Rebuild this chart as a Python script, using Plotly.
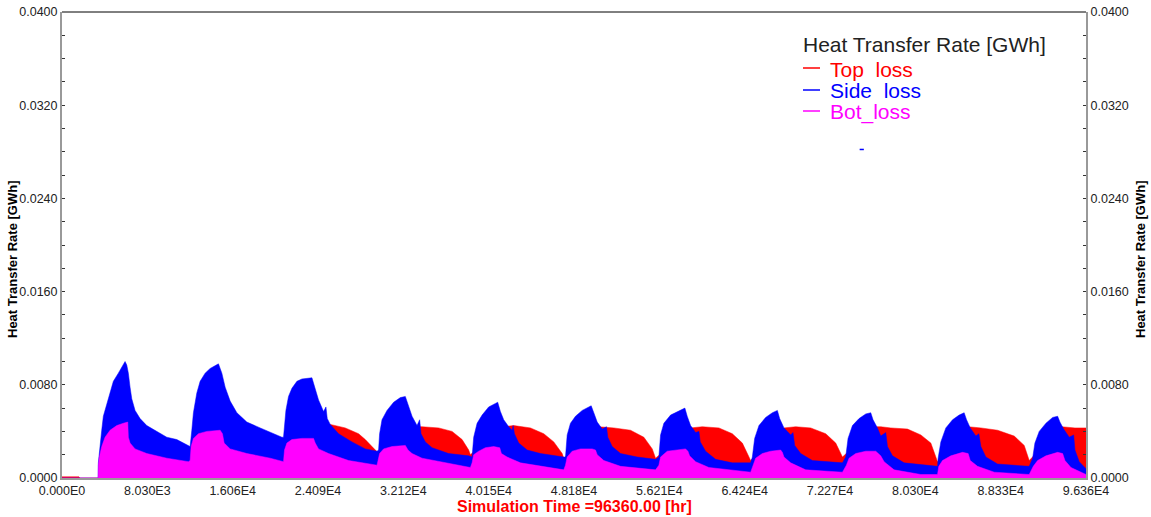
import plotly.graph_objects as go

# ---------------- data ----------------
# Simulation time [hr] and envelope values [GWh]
top_t = [0, 1600, 1700, 3500, 3600, 21000, 23000, 24612, 25243, 26656, 27908, 28540, 29171, 29481, 29700,
         32618, 33880, 35444, 36706, 37648, 38270, 38430,
         41415, 42508, 44081, 45334, 46276, 47067, 47218,
         50514, 51926, 53500, 54753, 55543, 55855,
         59151, 60253, 61817, 63079, 64021, 64803,
         67939, 69041, 70454, 71867, 72809, 73440,
         76576, 77047, 77989, 79562, 80815, 81757, 82388,
         85270, 86466, 88039, 89603, 90545, 91016,
         94067, 95320, 96360]
top_v = [0.0001, 0.0001, 0.0, 0.0, 0.0010, 0.0010, 0.0040, 0.0045, 0.0046, 0.0043, 0.0038, 0.0033, 0.0027, 0.0024, 0.0022,
         0.0044, 0.0044, 0.0043, 0.0040, 0.0033, 0.0024, 0.0020,
         0.0044, 0.0045, 0.0043, 0.0038, 0.0031, 0.0021, 0.0017,
         0.0044, 0.0043, 0.0041, 0.0035, 0.0025, 0.0017,
         0.0043, 0.0044, 0.0043, 0.0038, 0.0030, 0.0015,
         0.0043, 0.0044, 0.0043, 0.0038, 0.0030, 0.0018,
         0.0044, 0.0044, 0.0043, 0.0042, 0.0037, 0.0030, 0.0014,
         0.0044, 0.0043, 0.0041, 0.0036, 0.0028, 0.0015,
         0.0044, 0.0043, 0.0043]

side_t = [0, 3400, 3419, 3579, 3739, 3890, 4210, 4521, 4832, 5303, 5934,
          6094, 6245, 6405, 6565, 6876, 7347, 7978, 8920, 9862, 10804, 11896,
          12056, 12216, 12367, 12687, 12998, 13469, 13940, 14722,
          15042, 15353, 15824, 16455, 17397, 18650, 19592, 20694,
          20844, 20938, 21069, 21315, 21635, 22106, 22577, 23519,
          23830, 24141, 24612, 24838, 24961, 25243, 26025, 27287, 28540, 29642,
          29792, 29887, 30112, 30583, 31205, 31836, 32307,
          32562, 32939, 33409, 33655, 33786, 34191, 34822, 36386, 38270,
          38590, 38741, 39061, 39532, 40153, 40784, 41001,
          41255, 41566, 42037, 42357, 42451, 42574, 42979, 43771, 45023, 46276, 47218,
          47378, 47538, 47849, 48320, 48951, 49573, 49798,
          50044, 50364, 50835, 51239, 51362, 51775, 52558, 54131, 55855,
          56166, 56326, 56637, 57268, 57738, 58365, 58614,
          58834, 59151, 59622, 59933, 60065, 60564, 61506, 63079, 64803,
          64963, 65180, 65585, 66215, 66846, 67318,
          67534, 67939, 68570, 68787, 68947, 69512, 70613, 73440,
          73751, 73968, 74382, 75003, 75634, 76106,
          76322, 76736, 77047, 77518, 77679, 78150, 79243, 82388,
          82445, 82699, 83170, 83801, 84422, 84894,
          85120, 85468, 85995, 86278, 86466, 86937, 88039, 91016,
          91336, 91553, 91957, 92589, 93220, 93691,
          93908, 94256, 94783, 95198, 95320, 95724, 96360]
side_v = [0.0, 0.0, 0.0013, 0.0030, 0.0041, 0.0053, 0.0064, 0.0074, 0.0083, 0.0090, 0.0100,
          0.0097, 0.0090, 0.0078, 0.0068, 0.0058, 0.0051, 0.0045, 0.0040, 0.0035, 0.0033, 0.0028,
          0.0027, 0.0041, 0.0056, 0.0073, 0.0083, 0.0090, 0.0094, 0.0098,
          0.0090, 0.0078, 0.0066, 0.0056, 0.0048, 0.0043, 0.0039, 0.0035,
          0.0035, 0.0047, 0.0058, 0.0070, 0.0077, 0.0083, 0.0085, 0.0086,
          0.0076, 0.0067, 0.0057, 0.0061, 0.0051, 0.0046, 0.0038, 0.0031, 0.0025, 0.0023,
          0.0024, 0.0038, 0.0050, 0.0058, 0.0065, 0.0069, 0.0070,
          0.0063, 0.0053, 0.0045, 0.0050, 0.0038, 0.0031, 0.0026, 0.0021, 0.0019,
          0.0018, 0.0035, 0.0047, 0.0054, 0.0061, 0.0064, 0.0065,
          0.0057, 0.0050, 0.0044, 0.0041, 0.0045, 0.0038, 0.0030, 0.0024, 0.0021, 0.0019, 0.0018,
          0.0018, 0.0037, 0.0047, 0.0053, 0.0058, 0.0061, 0.0062,
          0.0056, 0.0048, 0.0042, 0.0044, 0.0035, 0.0027, 0.0021, 0.0018, 0.0016,
          0.0018, 0.0037, 0.0047, 0.0054, 0.0056, 0.0059, 0.0060,
          0.0053, 0.0045, 0.0039, 0.0040, 0.0031, 0.0023, 0.0016, 0.0013, 0.0013,
          0.0018, 0.0034, 0.0045, 0.0052, 0.0056, 0.0058,
          0.0051, 0.0043, 0.0037, 0.0039, 0.0028, 0.0021, 0.0015, 0.0013,
          0.0018, 0.0034, 0.0045, 0.0051, 0.0055, 0.0056,
          0.0050, 0.0043, 0.0036, 0.0039, 0.0027, 0.0019, 0.0013, 0.0010,
          0.0017, 0.0031, 0.0043, 0.0050, 0.0054, 0.0056,
          0.0050, 0.0043, 0.0036, 0.0038, 0.0027, 0.0018, 0.0012, 0.0010,
          0.0017, 0.0030, 0.0040, 0.0047, 0.0052, 0.0053,
          0.0048, 0.0042, 0.0035, 0.0037, 0.0024, 0.0014, 0.0008]

bot_t = [0, 3400, 3419, 3513, 3739, 4050, 4521, 5152, 5774, 6188,
         6245, 6405, 6876, 7978, 9862, 11896,
         12056, 12150, 12367, 12838, 13629, 14882, 15099, 15259, 15824, 17397, 19592, 20844,
         20938, 21163, 21635, 22577, 23670, 23830, 24141, 25083, 26967, 29642,
         29887, 30263, 31054, 32307, 32562, 32939, 33880, 36075, 38430,
         38590, 38741, 39211, 39843, 40624, 41191, 41350, 41886, 43139, 45023, 47218,
         47378, 47538, 48009, 48791, 49892, 50203, 50364, 50985, 52558, 55855,
         56166, 56326, 56956, 57738, 58680, 58900, 59057, 59622, 60875, 64803,
         65025, 65274, 65905, 66687, 67629, 67789, 67939, 68570, 69983, 73440,
         73814, 74062, 74693, 75634, 76576, 77047, 77361, 78301, 80815, 82388,
         82508, 82857, 83641, 84738, 85270, 85468, 86156, 87722, 91016,
         91399, 91807, 92589, 93691, 94162, 94380, 94945, 96360]
bot_v = [0.0, 0.0, 0.0011, 0.0018, 0.0027, 0.0035, 0.0041, 0.0045, 0.0047, 0.0048,
         0.0035, 0.0030, 0.0025, 0.0021, 0.0017, 0.0014,
         0.0015, 0.0027, 0.0034, 0.0038, 0.0040, 0.0041, 0.0038, 0.0030, 0.0025, 0.0021, 0.0017, 0.0014,
         0.0024, 0.0030, 0.0033, 0.0034, 0.0034, 0.0030, 0.0025, 0.0021, 0.0015, 0.0011,
         0.0021, 0.0025, 0.0027, 0.0028, 0.0024, 0.0021, 0.0017, 0.0013, 0.0009,
         0.0013, 0.0020, 0.0023, 0.0026, 0.0027, 0.0026, 0.0021, 0.0018, 0.0013, 0.0010, 0.0007,
         0.0011, 0.0018, 0.0023, 0.0025, 0.0025, 0.0024, 0.0020, 0.0015, 0.0010, 0.0007,
         0.0011, 0.0018, 0.0023, 0.0024, 0.0025, 0.0023, 0.0019, 0.0014, 0.0009, 0.0005,
         0.0011, 0.0017, 0.0021, 0.0023, 0.0024, 0.0022, 0.0018, 0.0013, 0.0007, 0.0005,
         0.0011, 0.0017, 0.0021, 0.0023, 0.0023, 0.0019, 0.0014, 0.0007, 0.0003, 0.0003,
         0.0010, 0.0015, 0.0019, 0.0022, 0.0021, 0.0015, 0.0010, 0.0005, 0.0003,
         0.0010, 0.0015, 0.0019, 0.0022, 0.0021, 0.0015, 0.0009, 0.0003]

stray_t = [75258]
stray_v = [0.0282]

x_ticks = [0, 8030, 16060, 24090, 32120, 40150, 48180, 56210, 64240, 72270, 80300, 88330, 96360]
x_labels = ["0.000E0", "8.030E3", "1.606E4", "2.409E4", "3.212E4", "4.015E4", "4.818E4",
            "5.621E4", "6.424E4", "7.227E4", "8.030E4", "8.833E4", "9.636E4"]
y_ticks = [0.0, 0.008, 0.016, 0.024, 0.032, 0.040]
y_labels = ["0.0000", "0.0080", "0.0160", "0.0240", "0.0320", "0.0400"]

series_names = ["Top  loss", "Side  loss", "Bot_loss"]
series_colors = ["#FF0000", "#0000FF", "#FF00FF"]
legend_title = "Heat Transfer Rate [GWh]"
y_title = "Heat Transfer Rate [GWh]"
x_title = "Simulation Time =96360.00 [hr]"

# ---------------- figure ----------------
FONT = "Arial, 'Liberation Sans', sans-serif"
W, H = 1151, 517
ML, MR, MT, MB = 62, 65, 12, 39
PW, PH = W - ML - MR, H - MT - MB


def px_x(px):
    return (px - ML) / PW


def px_y(py):
    return (H - MB - py) / PH


fig = go.Figure()

for t, v, c, n in [(top_t, top_v, series_colors[0], series_names[0]),
                   (side_t, side_v, series_colors[1], series_names[1]),
                   (bot_t, bot_v, series_colors[2], series_names[2])]:
    fig.add_trace(go.Scatter(x=t, y=v, mode="lines", fill="tozeroy", fillcolor=c, name=n,
                             line=dict(color=c, width=0.5), showlegend=False, hoverinfo="skip"))

fig.add_trace(go.Scatter(x=stray_t, y=stray_v, yaxis="y2", mode="markers",
                         marker=dict(color="#0000FF", size=3, symbol="line-ew-open",
                                     line=dict(width=1.5, color="#0000FF")),
                         showlegend=False, hoverinfo="skip"))

axis_common = dict(range=[0, 0.04], tickvals=y_ticks, ticktext=y_labels, showgrid=False, zeroline=False,
                   showline=True, linecolor="#999999", linewidth=2, automargin=False,
                   ticks="inside", ticklen=3, tickcolor="#333333",
                   minor=dict(dtick=0.002, ticks="inside", ticklen=3, tickcolor="#333333"),
                   tickfont=dict(family=FONT, size=12.5, color="#222222"))

annotations = [
    dict(text="<b>%s</b>" % y_title, xref="paper", yref="paper", x=px_x(12), y=px_y(260),
         xanchor="center", yanchor="middle", textangle=-90, showarrow=False,
         font=dict(family=FONT, size=13, color="#000000")),
    dict(text="<b>%s</b>" % y_title, xref="paper", yref="paper", x=px_x(1140), y=px_y(260),
         xanchor="center", yanchor="middle", textangle=-90, showarrow=False,
         font=dict(family=FONT, size=13, color="#000000")),
    dict(text="<b>%s</b>" % x_title, xref="paper", yref="paper", x=px_x(574), y=px_y(506),
         xanchor="center", yanchor="middle", showarrow=False,
         font=dict(family=FONT, size=16, color="#FF0000")),
    dict(text=legend_title, xref="paper", yref="paper", x=px_x(801), y=px_y(44),
         xanchor="left", yanchor="middle", showarrow=False,
         font=dict(family=FONT, size=21, color="#222222")),
]
shapes = [dict(type="line", xref="paper", yref="paper", x0=0, x1=1, y0=1, y1=1,
               line=dict(color="#000000", width=1))]
for i, (n, c) in enumerate(zip(series_names, series_colors)):
    yc = [69, 91, 112][i]
    annotations.append(dict(text=n.replace(" ", "\u00a0"), xref="paper", yref="paper",
                            x=px_x(828), y=px_y(yc), xanchor="left", yanchor="middle", showarrow=False,
                            font=dict(family=FONT, size=21, color=c)))
    shapes.append(dict(type="line", xref="paper", yref="paper", x0=px_x(803), x1=px_x(820),
                       y0=px_y(yc - 1), y1=px_y(yc - 1), line=dict(color=c, width=1.5)))

fig.update_layout(
    width=W, height=H,
    margin=dict(l=ML, r=MR, t=MT, b=MB),
    paper_bgcolor="white", plot_bgcolor="white",
    showlegend=False,
    xaxis=dict(range=[0, 96360], tickvals=x_ticks, ticktext=x_labels, showgrid=False, zeroline=False,
               showline=True, linecolor="#999999", linewidth=2, ticks="", automargin=False,
               tickfont=dict(family=FONT, size=12.5, color="#222222")),
    yaxis=dict(**axis_common),
    yaxis2=dict(**axis_common, overlaying="y", side="right"),
    annotations=annotations,
    shapes=shapes,
)

fig.write_html("out.html", config={"displayModeBar": False},
               post_script="document.body.style.margin='0';document.body.style.overflow='hidden';")
